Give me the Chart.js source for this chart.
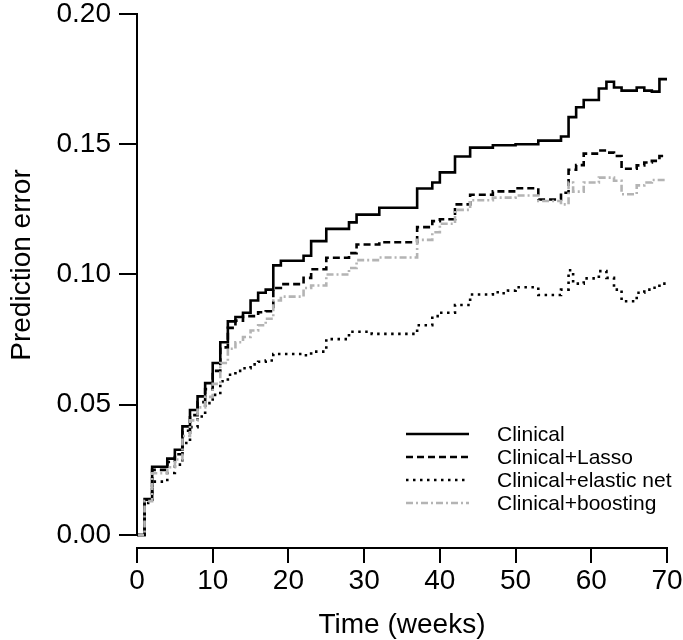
<!DOCTYPE html>
<html>
<head>
<meta charset="utf-8">
<script src="https://cdn.jsdelivr.net/npm/chart.js@4.4.1/dist/chart.umd.min.js"></script>
<style>
html,body{margin:0;padding:0;background:#fff;}
#wrap{width:683px;height:640px;}
</style>
</head>
<body>
<div id="wrap"><canvas id="c" width="683" height="640"></canvas></div>
<script>
// ---- data ----
const seriesNames = ["Clinical", "Clinical+Lasso", "Clinical+elastic net", "Clinical+boosting"];

const clinicalWeeks = [0,1,2,4,5,6,7,8,9,10,11,12,13,14,15,16,17,18,19,22,23,25,28,29,32,37,39,40,42,44,47,50,53,56,57,58,59,61,62,63,64,66,67,68,69,70];
const clinicalErr = [0,0.0138,0.0262,0.0293,0.0327,0.0417,0.048,0.0532,0.0583,0.066,0.074,0.082,0.0837,0.0853,0.090,0.093,0.0942,0.1035,0.1053,0.1072,0.1128,0.1175,0.120,0.123,0.1256,0.133,0.1353,0.1392,0.1453,0.1487,0.1496,0.150,0.1514,0.153,0.1604,0.1642,0.167,0.1714,0.174,0.1718,0.1706,0.1718,0.1706,0.1702,0.175,0.175];

const lassoWeeks = [0,1,2,4,5,6,7,8,9,10,11,12,13,14,16,17,18,19,22,23,25,28,29,32,37,39,40,42,44,47,50,53,56,57,58,59,61,62,63,64,66,67,68,69,70];
const lassoErr = [0,0.0135,0.025,0.028,0.031,0.040,0.046,0.051,0.056,0.063,0.072,0.0795,0.0823,0.084,0.0855,0.0859,0.0948,0.0963,0.0987,0.102,0.1064,0.1082,0.1115,0.1124,0.1182,0.1205,0.1212,0.1269,0.1306,0.1319,0.1331,0.1288,0.1314,0.1402,0.142,0.1464,0.1476,0.1468,0.1455,0.1406,0.1419,0.143,0.1436,0.1455,0.1455];

const elasticWeeks = [0,1,2,4,5,6,7,8,9,10,11,12,13,14,15,16,17,18,22,23,25,28,31,37,39,40,42,44,47,48,49,50,53,56,57,57.6,59,61,62,63,64,66,67,68,69,70];
const elasticErr = [0,0.0123,0.0205,0.0238,0.027,0.0353,0.0414,0.0455,0.0506,0.0538,0.059,0.0615,0.063,0.064,0.0655,0.0665,0.067,0.0695,0.069,0.0704,0.0752,0.078,0.0772,0.0805,0.084,0.0853,0.0883,0.0923,0.0932,0.0928,0.0938,0.0951,0.0921,0.0942,0.1016,0.0965,0.0985,0.1013,0.0987,0.0942,0.0897,0.093,0.0942,0.0949,0.0965,0.0958];

const boostingWeeks = [0,1,2,4,5,6,7,8,9,10,11,12,13,14,15,16,17,18,19,22,23,25,28,29,32,37,39,40,42,44,47,50,53,56,57,57.6,59,61,63,64,66,67,68,70];
const boostingErr = [0,0.013,0.0237,0.026,0.029,0.038,0.044,0.049,0.053,0.058,0.066,0.0715,0.074,0.076,0.0785,0.0805,0.083,0.090,0.0915,0.0948,0.0958,0.100,0.1025,0.1055,0.1065,0.1133,0.1162,0.1195,0.1248,0.1285,0.1295,0.1303,0.1282,0.1269,0.1353,0.1318,0.1353,0.1372,0.136,0.1308,0.1342,0.1353,0.1363,0.1363];

const xTicks = [0,10,20,30,40,50,60,70];
const yTicks = [0,0.05,0.10,0.15,0.20];
const xTitle = "Time (weeks)";
const yTitle = "Prediction error";

// ---- build ----
const FONT = "'Liberation Sans', Arial, Helvetica, sans-serif";
const pts = (t, v) => t.map((x, i) => ({x: x, y: v[i]}));

const styles = [
  {color: "#000000", dash: [], width: 2.6},
  {color: "#000000", dash: [7, 4], width: 2.6},
  {color: "#000000", dash: [2.5, 4.5], width: 2.6},
  {color: "#b4b4b4", dash: [7, 3, 2, 3], width: 2.6}
];
const seriesData = [pts(clinicalWeeks, clinicalErr), pts(lassoWeeks, lassoErr), pts(elasticWeeks, elasticErr), pts(boostingWeeks, boostingErr)];

const datasets = seriesNames.map((n, i) => ({
  label: n,
  data: seriesData[i],
  borderColor: styles[i].color,
  borderDash: styles[i].dash,
  borderWidth: styles[i].width,
  pointRadius: 0,
  fill: false,
  stepped: 'before',
  tension: 0,
  order: 3 - i
}));

const axisLinePlugin = {
  id: 'axisLine',
  afterDraw(chart) {
    const ctx = chart.ctx, y = chart.scales.y, a = chart.chartArea;
    ctx.save();
    ctx.strokeStyle = '#000';
    ctx.lineWidth = 2;
    ctx.beginPath();
    ctx.moveTo(a.left, y.getPixelForValue(yTicks[yTicks.length - 1]) - 1);
    ctx.lineTo(a.left, y.getPixelForValue(yTicks[0]) + 1);
    ctx.stroke();
    // y axis title
    ctx.fillStyle = '#000';
    ctx.font = "28px " + FONT;
    ctx.textAlign = 'center';
    ctx.textBaseline = 'middle';
    ctx.translate(22, 265);
    ctx.rotate(-Math.PI / 2);
    ctx.fillText(yTitle, 0, 0);
    ctx.restore();
  }
};

const legendPlugin = {
  id: 'insideLegend',
  afterDraw(chart) {
    const ctx = chart.ctx;
    ctx.save();
    chart.data.datasets.forEach((ds, i) => {
      const yy = 434 + 23 * i;
      ctx.strokeStyle = ds.borderColor;
      ctx.lineWidth = ds.borderWidth;
      ctx.setLineDash(ds.borderDash);
      ctx.beginPath();
      ctx.moveTo(406, yy);
      ctx.lineTo(469, yy);
      ctx.stroke();
      ctx.setLineDash([]);
      ctx.fillStyle = '#000';
      ctx.font = "21px " + FONT;
      ctx.textBaseline = 'middle';
      ctx.textAlign = 'left';
      ctx.fillText(ds.label, 497, yy + 1);
    });
    ctx.restore();
  }
};

new Chart(document.getElementById('c'), {
  type: 'line',
  data: {datasets: datasets},
  plugins: [axisLinePlugin, legendPlugin],
  options: {
    responsive: false,
    animation: false,
    layout: {padding: {top: 14, right: 16, left: 0, bottom: 0}},
    plugins: {legend: {display: false}, tooltip: {enabled: false}},
    scales: {
      x: {
        type: 'linear', min: 0, max: 70,
        afterBuildTicks: s => { s.ticks = xTicks.map(v => ({value: v})); },
        afterFit: s => { s.height = 92; s.paddingLeft = 0; s.paddingRight = 0; },
        ticks: {font: {family: FONT, size: 28}, color: '#000', padding: 1, maxRotation: 0, autoSkip: false},
        grid: {drawOnChartArea: false, drawTicks: true, tickLength: 15, color: '#000', lineWidth: 2},
        border: {display: true, color: '#000', width: 2},
        title: {display: true, text: xTitle, color: '#000', font: {family: FONT, size: 28, lineHeight: 1}, padding: {top: 0, bottom: 1}}
      },
      y: {
        type: 'linear', min: -0.005, max: 0.2,
        afterBuildTicks: s => { s.ticks = yTicks.map(v => ({value: v})); },
        afterFit: s => { s.width = 137; s.paddingTop = 0; s.paddingBottom = 0; },
        ticks: {font: {family: FONT, size: 28}, color: '#000', padding: 8, autoSkip: false, callback: v => Number(v).toFixed(2)},
        grid: {drawOnChartArea: false, drawTicks: true, tickLength: 18, color: '#000', lineWidth: 2},
        border: {display: false},
        title: {display: false}
      }
    }
  }
});
</script>
</body>
</html>
